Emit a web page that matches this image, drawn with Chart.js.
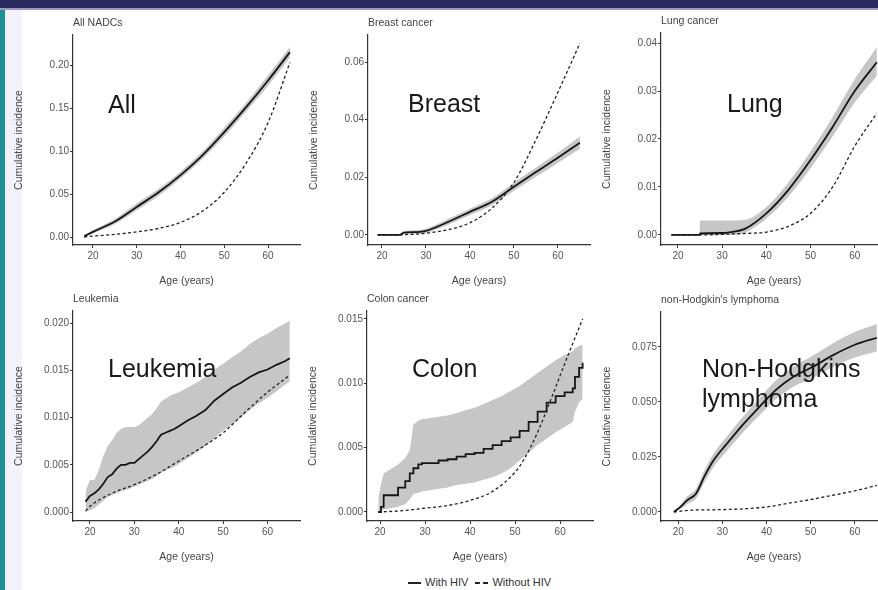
<!DOCTYPE html>
<html>
<head>
<meta charset="utf-8">
<script src="https://cdn.jsdelivr.net/npm/chart.js@4.4.1/dist/chart.umd.min.js"></script>
<style>
  html, body { margin: 0; padding: 0; width: 878px; height: 590px; overflow: hidden; background: #fff; font-family: "Liberation Sans", Arial, sans-serif; }
  #topbar { position: absolute; left: 0; top: 0; width: 878px; height: 8px; background: #2b2a5f; }
  #topline { position: absolute; left: 0; top: 8px; width: 878px; height: 2px; background: #9a99c4; }
  #leftbar { position: absolute; left: 0; top: 10px; width: 5px; height: 580px; background: #1b9096; }
  #leftpale { position: absolute; left: 5px; top: 10px; width: 17px; height: 580px; background: #f3f2fb; }
  canvas { position: absolute; }
  #legend { position: absolute; left: 408px; top: 575px; font-size: 11px; color: #333; white-space: nowrap; line-height: 14px; }
  .sw { display: inline-block; width: 13px; vertical-align: middle; margin-right: 4px; }
  .solid { border-top: 2px solid #222; }
  .dash { border-top: 2px dashed #222; margin-left: 4px; }
</style>
</head>
<body>
<div id="topbar"></div>
<div id="topline"></div>
<div id="leftbar"></div>
<div id="leftpale"></div>
<div id="legend"><span class="sw solid"></span>With HIV <span class="sw dash"></span>Without HIV</div>

<script>
// Shared x ticks
const ageTicks = [20, 30, 40, 50, 60];

// All NADCs
const allAges = [18, 20, 25, 30, 35, 40, 45, 50, 55, 60, 65];
const allHiv = [0.001, 0.006, 0.018, 0.035, 0.052, 0.072, 0.095, 0.122, 0.151, 0.182, 0.215];
const allLow = [0.000, 0.004, 0.015, 0.031, 0.048, 0.068, 0.091, 0.117, 0.146, 0.176, 0.209];
const allHigh = [0.002, 0.008, 0.021, 0.039, 0.056, 0.076, 0.099, 0.127, 0.156, 0.188, 0.221];
const allNoHiv = [0.000, 0.001, 0.003, 0.006, 0.010, 0.017, 0.030, 0.052, 0.086, 0.133, 0.203];
const allTicks = [0, 0.05, 0.10, 0.15, 0.20];

// Breast cancer
const brAges = [19, 24, 25, 28, 30, 35, 40, 45, 50, 55, 60, 65];
const brHiv = [0, 0, 0.0008, 0.0010, 0.0014, 0.0045, 0.0080, 0.0115, 0.0167, 0.0218, 0.0268, 0.0320];
const brLow = [0, 0, 0.0003, 0.0004, 0.0007, 0.0035, 0.0069, 0.0103, 0.0153, 0.0202, 0.0250, 0.0299];
const brHigh = [0, 0, 0.0014, 0.0016, 0.0021, 0.0055, 0.0091, 0.0127, 0.0181, 0.0234, 0.0286, 0.0342];
const brNoHiv = [0, 0, 0.0001, 0.0003, 0.0006, 0.0018, 0.0042, 0.0093, 0.0182, 0.0330, 0.0495, 0.0665];
const brTicks = [0, 0.02, 0.04, 0.06];

// Lung cancer
const luAges = [18.5, 24.9, 25, 30, 32, 35, 40, 45, 50, 55, 60, 65];
const luHiv = [0, 0, 0.0003, 0.0004, 0.0006, 0.0012, 0.0045, 0.0094, 0.0156, 0.0225, 0.0300, 0.0360];
const luLow = [0, 0, 0, 0, 0, 0.0004, 0.0034, 0.0080, 0.0139, 0.0205, 0.0276, 0.0332];
const luHigh = [0, 0, 0.0030, 0.0030, 0.0030, 0.0031, 0.0058, 0.0110, 0.0174, 0.0246, 0.0325, 0.0392];
const luNoHiv = [0, 0, 0, 0.0001, 0.0002, 0.0003, 0.0006, 0.0018, 0.0045, 0.0100, 0.0185, 0.0254];
const luTicks = [0, 0.01, 0.02, 0.03, 0.04];

// Leukemia
const leuAges = [19, 20, 21, 22, 23, 24, 25, 26, 27, 28, 29, 30, 31, 32, 33, 34, 35, 36, 37, 38, 39, 40,
  42, 44, 46, 48, 50, 52, 54, 56, 58, 60, 62, 64, 65];
const leuHiv = [0.0011, 0.0017, 0.0020, 0.0024, 0.0030, 0.0037, 0.0040, 0.0046, 0.0050, 0.0050, 0.0052, 0.0052,
  0.0056, 0.0060, 0.0064, 0.0069, 0.0075, 0.0082, 0.0084, 0.0086, 0.0088, 0.0091,
  0.0097, 0.0102, 0.0108, 0.0118, 0.0125, 0.0132, 0.0137, 0.0143, 0.0148, 0.0151, 0.0156, 0.0160, 0.0163];
const leuLow = [0.0000, 0.0002, 0.0004, 0.0008, 0.0012, 0.0016, 0.0018, 0.0020, 0.0022, 0.0023, 0.0025, 0.0027,
  0.0029, 0.0031, 0.0033, 0.0035, 0.0038, 0.0042, 0.0044, 0.0046, 0.0048, 0.0051,
  0.0057, 0.0063, 0.0070, 0.0078, 0.0086, 0.0093, 0.0100, 0.0108, 0.0115, 0.0121, 0.0128, 0.0135, 0.0138];
const leuHigh = [0.0022, 0.0034, 0.0034, 0.0045, 0.0059, 0.0070, 0.0076, 0.0084, 0.0088, 0.0090, 0.0090, 0.0090,
  0.0092, 0.0096, 0.0100, 0.0104, 0.0110, 0.0117, 0.0120, 0.0123, 0.0125, 0.0127,
  0.0132, 0.0137, 0.0143, 0.0151, 0.0157, 0.0164, 0.0170, 0.0178, 0.0184, 0.0189, 0.0195, 0.0200, 0.0203];
const leuNoAges = [19, 20, 25, 30, 35, 40, 45, 50, 55, 60, 65];
const leuNoHiv = [0.0001, 0.0006, 0.0020, 0.0029, 0.0040, 0.0054, 0.0068, 0.0084, 0.0106, 0.0127, 0.0145];
const leuTicks = [0, 0.005, 0.010, 0.015, 0.020];

// Colon cancer
const colAges = [19.6, 20.2, 20.8, 24, 25.6, 26.6, 27.4, 28.5, 29.3, 33, 35, 37, 39, 41, 43, 45, 47, 49,
  51, 53, 55, 57, 59, 61, 62.8, 63.3, 64.2, 65];
const colHiv = [0, 0.0004, 0.0013, 0.0019, 0.0024, 0.0030, 0.0034, 0.0037, 0.0038, 0.0040, 0.0041, 0.0043,
  0.0045, 0.0046, 0.0049, 0.0052, 0.0055, 0.0058, 0.0063, 0.0070, 0.0078, 0.0085, 0.0090, 0.0093,
  0.0096, 0.0105, 0.0112, 0.0116];
const colLow = [0, 0.0001, 0.0002, 0.0004, 0.0006, 0.0010, 0.0014, 0.0015, 0.0016, 0.0018, 0.0019, 0.0021,
  0.0022, 0.0023, 0.0025, 0.0027, 0.0030, 0.0034, 0.0040, 0.0046, 0.0052, 0.0057, 0.0062, 0.0066,
  0.0070, 0.0078, 0.0085, 0.0088];
const colHigh = [0.0010, 0.0022, 0.0030, 0.0037, 0.0042, 0.0048, 0.0068, 0.0071, 0.0072, 0.0074, 0.0075, 0.0077,
  0.0079, 0.0081, 0.0084, 0.0087, 0.0090, 0.0094, 0.0098, 0.0103, 0.0108, 0.0113, 0.0118, 0.0122,
  0.0125, 0.0127, 0.0129, 0.0130];
const colNoAges = [19.6, 25, 30, 35, 40, 45, 50, 52, 55, 58, 60, 62, 65];
const colNoHiv = [0, 0.0001, 0.0003, 0.0005, 0.0009, 0.0016, 0.0031, 0.0041, 0.0062, 0.0088, 0.0106, 0.0124, 0.0150];
const colTicks = [0, 0.005, 0.010, 0.015];

// Non-Hodgkin's lymphoma
const nhlAges = [19, 20.5, 22, 24, 26, 28, 31, 35, 38.5, 42, 46, 50.5, 55, 60, 65];
const nhlHiv = [0, 0.0023, 0.0053, 0.0083, 0.0165, 0.0235, 0.0310, 0.0405, 0.0480, 0.0553, 0.0614, 0.0660, 0.0712, 0.0760, 0.0792];
const nhlLow = [0, 0.0013, 0.0035, 0.0061, 0.0138, 0.0205, 0.0277, 0.0369, 0.0441, 0.0511, 0.0568, 0.0610, 0.0658, 0.0702, 0.0729];
const nhlHigh = [0.0004, 0.0033, 0.0071, 0.0105, 0.0192, 0.0265, 0.0343, 0.0441, 0.0519, 0.0595, 0.0660, 0.0710, 0.0766, 0.0818, 0.0855];
const nhlNoAges = [19, 22.6, 28, 35.5, 40, 44.5, 49, 55, 60.4, 65];
const nhlNoHiv = [0, 0.0008, 0.0010, 0.0015, 0.0023, 0.0038, 0.0053, 0.0076, 0.0098, 0.0121];
const nhlTicks = [0, 0.025, 0.050, 0.075];

const FONT = '"Liberation Sans", Arial, sans-serif';
const Y_AXIS_W = 60;
const X_AXIS_H = 42;
const PAD_TOP = 25;

const pts = (xs, ys) => xs.map((x, i) => ({ x: x, y: ys[i] }));

// panel title + big label drawn on the chart
const panelText = {
  id: "panelText",
  afterDraw(chart, args, opts) {
    const { ctx, chartArea } = chart;
    ctx.save();
    ctx.fillStyle = "#444";
    ctx.font = "10.5px " + FONT;
    ctx.textAlign = "left";
    ctx.textBaseline = "middle";
    ctx.fillText(opts.title, chartArea.left, chartArea.top - 12);
    ctx.fillStyle = "#1a1a1a";
    ctx.font = "25px " + FONT;
    ctx.textBaseline = "alphabetic";
    opts.label.forEach((t, i) => {
      ctx.fillText(t, chartArea.left + opts.dx, chartArea.top + opts.dy + i * 30);
    });
    ctx.restore();
  },
};

function makePanel(p) {
  const cv = document.createElement("canvas");
  const w = p.right - p.left + Y_AXIS_W + 4;
  const h = p.bottom - p.top + PAD_TOP + X_AXIS_H;
  cv.width = w;
  cv.height = h;
  cv.style.left = (p.left - Y_AXIS_W) + "px";
  cv.style.top = (p.top - PAD_TOP) + "px";
  cv.style.width = w + "px";
  cv.style.height = h + "px";
  document.body.appendChild(cv);

  const smooth = { cubicInterpolationMode: "monotone" };
  const straight = { tension: 0 };
  // "step" panels: steps on the line; "rough" panels: plain segments
  const lineStyle = p.shape === "step" ? { stepped: true } : p.shape === "rough" ? straight : smooth;
  const bandStyle = p.shape ? straight : smooth;

  new Chart(cv, {
    type: "line",
    data: {
      datasets: [
        Object.assign({ data: pts(p.ages, p.hiv), borderColor: "#161616", borderWidth: 1.8, pointRadius: 0, fill: false }, lineStyle),
        Object.assign({ data: pts(p.noAges, p.noHiv), borderColor: "#222", borderWidth: 1.3, borderDash: [3, 2.5], pointRadius: 0, fill: false }, smooth),
        Object.assign({ data: pts(p.ages, p.low), borderWidth: 0, pointRadius: 0, fill: false }, bandStyle),
        Object.assign({ data: pts(p.ages, p.high), borderWidth: 0, pointRadius: 0, fill: "-1", backgroundColor: "#c6c6c6" }, bandStyle),
      ],
    },
    options: {
      responsive: false,
      animation: false,
      layout: { padding: { top: PAD_TOP, right: 4, left: 0, bottom: 0 } },
      plugins: {
        legend: { display: false },
        tooltip: { enabled: false },
        panelText: { title: p.title, label: p.label, dx: p.labelX - p.left, dy: p.labelY - p.top },
      },
      scales: {
        x: {
          type: "linear",
          min: p.xMin,
          max: p.xMax,
          afterBuildTicks: (s) => { s.ticks = ageTicks.map((v) => ({ value: v })); },
          afterFit: (s) => { s.height = X_AXIS_H; },
          ticks: { font: { family: FONT, size: 10 }, color: "#555", padding: 2, maxRotation: 0, autoSkip: false },
          grid: { drawOnChartArea: false, drawTicks: true, tickLength: 3, color: "#333" },
          border: { display: true, color: "#333", width: 1.2 },
          title: { display: true, text: "Age (years)", font: { family: FONT, size: 10.5 }, color: "#444", padding: 0 },
        },
        y: {
          type: "linear",
          min: p.yMin,
          max: p.yMax,
          afterBuildTicks: (s) => { s.ticks = p.yTicks.map((v) => ({ value: v })); },
          afterFit: (s) => { s.width = Y_AXIS_W; },
          ticks: {
            font: { family: FONT, size: 10 },
            color: "#555",
            padding: 1,
            autoSkip: false,
            callback: (v) => Number(v).toFixed(p.dec),
          },
          grid: { drawOnChartArea: false, drawTicks: true, tickLength: 3, color: "#333" },
          border: { display: true, color: "#333", width: 1.2 },
          title: { display: true, text: "Cumulative incidence", font: { family: FONT, size: 10.5 }, color: "#444", padding: 0 },
        },
      },
    },
    plugins: [panelText],
  });
}

const panels = [
  { title: "All NADCs", label: ["All"], left: 73, right: 300, top: 35, bottom: 245,
    xMin: 15.43, xMax: 67.3, yMin: -0.0093, yMax: 0.2349, yTicks: allTicks, dec: 2,
    ages: allAges, hiv: allHiv, low: allLow, high: allHigh, noAges: allAges, noHiv: allNoHiv,
    labelX: 108, labelY: 113 },
  { title: "Breast cancer", label: ["Breast"], left: 368, right: 590, top: 35, bottom: 245,
    xMin: 16.82, xMax: 67.3, yMin: -0.0035, yMax: 0.0694, yTicks: brTicks, dec: 2,
    ages: brAges, hiv: brHiv, low: brLow, high: brHigh, noAges: brAges, noHiv: brNoHiv,
    labelX: 408, labelY: 112 },
  { title: "Lung cancer", label: ["Lung"], left: 661, right: 887, top: 33, bottom: 245,
    xMin: 16.16, xMax: 67.3, yMin: -0.0021, yMax: 0.0421, yTicks: luTicks, dec: 2,
    ages: luAges, hiv: luHiv, low: luLow, high: luHigh, noAges: luAges, noHiv: luNoHiv,
    labelX: 727, labelY: 112 },
  { title: "Leukemia", label: ["Leukemia"], left: 73, right: 300, top: 311, bottom: 521,
    xMin: 16.18, xMax: 67.3, yMin: -0.00095, yMax: 0.0213, yTicks: leuTicks, dec: 3, shape: "rough",
    ages: leuAges, hiv: leuHiv, low: leuLow, high: leuHigh, noAges: leuNoAges, noHiv: leuNoHiv,
    labelX: 108, labelY: 377 },
  { title: "Colon cancer", label: ["Colon"], left: 367, right: 593, top: 311, bottom: 521,
    xMin: 17.1, xMax: 67.3, yMin: -0.0007, yMax: 0.01562, yTicks: colTicks, dec: 3, shape: "step",
    ages: colAges, hiv: colHiv, low: colLow, high: colHigh, noAges: colNoAges, noHiv: colNoHiv,
    labelX: 412, labelY: 377 },
  { title: "non-Hodgkin's lymphoma", label: ["Non-Hodgkins", "lymphoma"], left: 661, right: 887, top: 312, bottom: 521,
    xMin: 16.08, xMax: 67.3, yMin: -0.0041, yMax: 0.0909, yTicks: nhlTicks, dec: 3,
    ages: nhlAges, hiv: nhlHiv, low: nhlLow, high: nhlHigh, noAges: nhlNoAges, noHiv: nhlNoHiv,
    labelX: 702, labelY: 377 },
];

panels.forEach(makePanel);
</script>
</body>
</html>
